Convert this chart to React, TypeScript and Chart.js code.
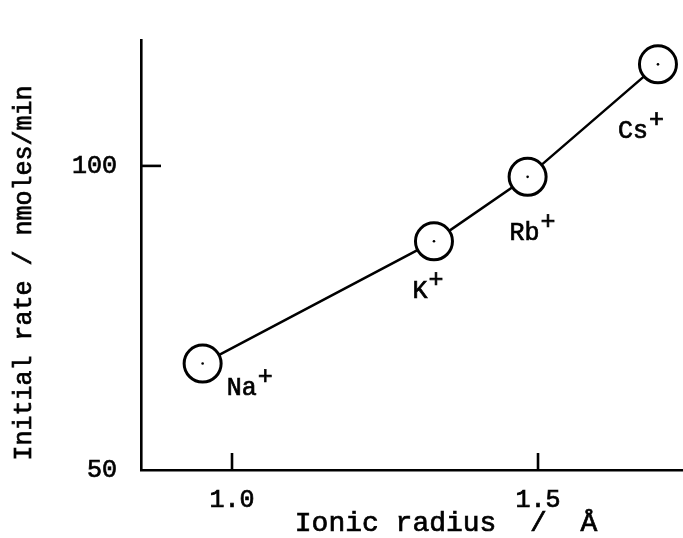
import React, { useEffect, useRef } from 'react';
import { Chart, registerables } from 'chart.js';

Chart.register(...registerables);

// ---- data ----
const ions = ['Na', 'K', 'Rb', 'Cs'];
const ionicRadius = [0.952, 1.33, 1.483, 1.696];
const initialRate = [67.5, 87.6, 98.2, 116.7];
const xTickValues = [1.0, 1.5];
const yTickValues = [50, 100];
const xTitle = 'Ionic radius  /  Å';
const yTitle = 'Initial rate / nmoles/min';

// ---- style ----
const FONT = '"Liberation Mono", "DejaVu Sans Mono", monospace';
const FONT_SIZE = 25;
const TEXT_STROKE = 0.7;
const labelOffsets = [
  [39, 25],
  [-14, 50],
  [-3, 57],
  [-25, 67],
];

export default function App() {
  const ref = useRef<HTMLCanvasElement>(null);

  useEffect(() => {
    if (!ref.current) return;
    const pts = ionicRadius.map((x, i) => ({ x, y: initialRate[i] }));

    const drawText = (ctx: CanvasRenderingContext2D, s: string, x: number, y: number) => {
      ctx.fillText(s, x, y);
      ctx.strokeText(s, x, y);
    };

    const decor = {
      id: 'decor',
      afterDatasetsDraw(chart: any) {
        const ctx = chart.ctx as CanvasRenderingContext2D;
        const xs = chart.scales.x;
        const ys = chart.scales.y;
        const area = chart.chartArea;
        ctx.save();
        // inward tick marks
        ctx.strokeStyle = '#000';
        ctx.lineWidth = 2.6;
        ctx.lineCap = 'butt';
        xs.ticks.forEach((t: any) => {
          const px = xs.getPixelForValue(t.value);
          ctx.beginPath();
          ctx.moveTo(px, area.bottom);
          ctx.lineTo(px, area.bottom - 17);
          ctx.stroke();
        });
        ys.ticks.forEach((t: any) => {
          const py = ys.getPixelForValue(t.value);
          if (Math.abs(py - area.bottom) < 2) return;
          ctx.beginPath();
          ctx.moveTo(area.left, py);
          ctx.lineTo(area.left + 20, py);
          ctx.stroke();
        });

        // point labels with superscript +
        ctx.fillStyle = '#000';
        ctx.lineWidth = TEXT_STROKE;
        ctx.font = `${FONT_SIZE}px ${FONT}`;
        ctx.textBaseline = 'middle';
        ions.forEach((ion, i) => {
          const px = xs.getPixelForValue(ionicRadius[i]);
          const py = ys.getPixelForValue(initialRate[i]);
          const cx = px + labelOffsets[i][0];
          const cy = py + labelOffsets[i][1];
          ctx.textAlign = 'center';
          drawText(ctx, ion, cx, cy);
          const w = ctx.measureText(ion).width;
          ctx.textAlign = 'left';
          drawText(ctx, '+', cx + w / 2 + 1, cy - 11);
        });

        // axis titles
        ctx.textAlign = 'center';
        ctx.font = `28px ${FONT}`;
        drawText(ctx, xTitle, 446, 524);
        ctx.font = `${FONT_SIZE}px ${FONT}`;
        ctx.translate(24, 273);
        ctx.rotate(-Math.PI / 2);
        drawText(ctx, yTitle, 0, 0);
        ctx.restore();
      },
    };

    const tickStyle = {
      color: '#000',
      font: { family: FONT, size: FONT_SIZE },
      textStrokeColor: '#000',
      textStrokeWidth: TEXT_STROKE,
    };

    const chart = new Chart(ref.current, {
      type: 'scatter',
      data: {
        datasets: [
          {
            data: pts,
            showLine: true,
            borderColor: '#000',
            borderWidth: 2.5,
            tension: 0,
            pointRadius: 18.5,
            pointHoverRadius: 18.5,
            pointBorderWidth: 3,
            pointBackgroundColor: '#fff',
            pointBorderColor: '#000',
            order: 1,
          },
          {
            data: pts,
            showLine: false,
            pointRadius: 1.3,
            pointHoverRadius: 1.3,
            pointBorderWidth: 0,
            pointBackgroundColor: '#000',
            order: 0,
          },
        ],
      },
      options: {
        responsive: false,
        animation: false,
        devicePixelRatio: 1,
        events: [],
        layout: { autoPadding: false, padding: { top: 40, right: 0, bottom: 0, left: 0 } },
        plugins: {
          legend: { display: false },
          tooltip: { enabled: false },
          title: { display: false },
        },
        scales: {
          x: {
            type: 'linear',
            min: 0.8513,
            max: 1.7369,
            grid: { display: false },
            border: { display: true, color: '#000', width: 2.6 },
            ticks: {
              ...tickStyle,
              padding: 7,
              callback: (v: any) => Number(v).toFixed(1),
            },
            afterBuildTicks: (s: any) => {
              s.ticks = xTickValues.map((v) => ({ value: v }));
            },
            afterFit: (s: any) => {
              s.height = 68;
              s.paddingLeft = 0;
              s.paddingRight = 0;
            },
          },
          y: {
            type: 'linear',
            min: 50,
            max: 120.7,
            grid: { display: false },
            border: { display: true, color: '#000', width: 2.6 },
            ticks: {
              ...tickStyle,
              padding: 16,
              callback: (v: any) => String(v),
            },
            afterBuildTicks: (s: any) => {
              s.ticks = yTickValues.map((v) => ({ value: v }));
            },
            afterFit: (s: any) => {
              s.width = 141;
              s.paddingTop = 0;
              s.paddingBottom = 0;
            },
          },
        },
      },
      plugins: [decor],
    } as any);

    return () => chart.destroy();
  }, []);

  return (
    <div
      style={{
        position: 'absolute',
        left: 0,
        top: 0,
        width: 683,
        height: 538,
        background: '#fff',
      }}
    >
      <canvas ref={ref} width={683} height={538} style={{ display: 'block' }} />
    </div>
  );
}
